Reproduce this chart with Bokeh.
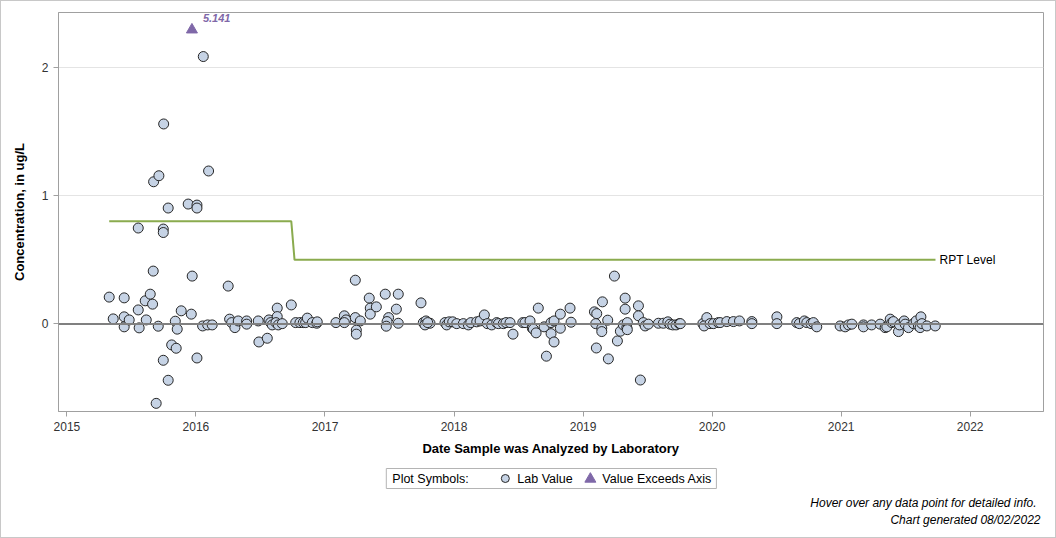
from bokeh.plotting import figure
from bokeh.layouts import column
from bokeh.models import (Range1d, FixedTicker, Span, Label, ColumnDataSource,
                          HoverTool)
from bokeh.core.properties import value
from bokeh.embed import file_html
from bokeh.resources import INLINE

# Laboratory results: analysis date (decimal year) and concentration (ug/L)
analysis_year = [
    2015.328, 2015.359, 2015.444, 2015.444, 2015.444, 2015.483, 2015.553, 2015.553,
    2015.560, 2015.607, 2015.615, 2015.646, 2015.664, 2015.669, 2015.672, 2015.692,
    2015.708, 2015.713, 2015.747, 2015.747, 2015.747, 2015.750, 2015.785, 2015.785,
    2015.812, 2015.840, 2015.847, 2015.855, 2015.886, 2015.940, 2015.964, 2015.971,
    2016.008, 2016.008, 2016.008, 2016.052, 2016.057, 2016.091, 2016.098, 2016.126,
    2016.250, 2016.261, 2016.277, 2016.302, 2016.328, 2016.393, 2016.393, 2016.483,
    2016.488, 2016.553, 2016.566, 2016.579, 2016.591, 2016.630, 2016.630, 2016.620,
    2016.638, 2016.669, 2016.739, 2016.773, 2016.806, 2016.832, 2016.850, 2016.863,
    2016.902, 2016.936, 2016.940, 2017.085, 2017.150, 2017.163, 2017.150, 2017.235,
    2017.235, 2017.274, 2017.243, 2017.243, 2017.343, 2017.351, 2017.351, 2017.398,
    2017.467, 2017.568, 2017.493, 2017.481, 2017.475, 2017.553, 2017.568, 2017.744,
    2017.762, 2017.783, 2017.775, 2017.814, 2017.796, 2017.930, 2017.943, 2017.963,
    2017.990, 2018.021, 2018.072, 2018.111, 2018.130, 2018.176, 2018.202, 2018.235,
    2018.258, 2018.292, 2018.331, 2018.344, 2018.382, 2018.403, 2018.434, 2018.457,
    2018.533, 2018.550, 2018.589, 2018.607, 2018.615, 2018.636, 2018.653, 2018.698,
    2018.716, 2018.752, 2018.775, 2018.752, 2018.775, 2018.824, 2018.824, 2018.899,
    2018.907, 2019.088, 2019.106, 2019.098, 2019.103, 2019.145, 2019.145, 2019.150,
    2019.191, 2019.196, 2019.243, 2019.266, 2019.289, 2019.326, 2019.326, 2019.312,
    2019.339, 2019.343, 2019.343, 2019.429, 2019.429, 2019.444, 2019.467, 2019.481,
    2019.506, 2019.584, 2019.622, 2019.657, 2019.674, 2019.695, 2019.721, 2019.746,
    2019.754, 2019.928, 2019.959, 2019.938, 2019.984, 2020.010, 2020.048, 2020.062,
    2020.114, 2020.165, 2020.212, 2020.308, 2020.308, 2020.502, 2020.502, 2020.656,
    2020.676, 2020.715, 2020.734, 2020.767, 2020.785, 2020.811, 2020.992, 2021.031,
    2021.057, 2021.083, 2021.173, 2021.173, 2021.236, 2021.302, 2021.341, 2021.354,
    2021.380, 2021.393, 2021.405, 2021.444, 2021.452, 2021.488, 2021.496, 2021.522,
    2021.561, 2021.581, 2021.599, 2021.612, 2021.618, 2021.626, 2021.664, 2021.729,
]
concentration = [
    0.209, 0.039, 0.203, 0.055, -0.023, 0.031, 0.748, 0.109,
    -0.031, 0.180, 0.031, 0.232, 0.154, 0.412, 1.109, -0.620,
    -0.018, 1.156, 0.740, 0.713, -0.284, 1.560, 0.904, -0.440,
    -0.164, 0.021, -0.190, -0.041, 0.102, 0.935, 0.076, 0.373,
    0.927, 0.904, -0.266, -0.016, 2.086, -0.008, 1.193, -0.008,
    0.295, 0.037, 0.010, -0.029, 0.023, 0.023, -0.002, 0.023,
    -0.141, -0.112, 0.031, 0.010, -0.008, 0.123, 0.057, 0.010,
    -0.008, 0.002, 0.148, 0.010, 0.010, 0.010, 0.010, 0.045,
    0.010, 0.005, 0.016, 0.010, 0.063, 0.031, 0.010, 0.341,
    0.049, 0.023, -0.049, -0.080, 0.201, 0.123, 0.076, 0.133,
    0.232, 0.232, 0.049, 0.018, -0.018, 0.115, 0.005, 0.164,
    0.010, 0.023, -0.008, 0.005, 0.010, 0.010, -0.008, 0.016,
    0.016, 0.002, 0.002, -0.008, 0.010, 0.016, 0.023, 0.070,
    0.002, -0.008, 0.010, 0.002, 0.002, 0.010, 0.010, -0.080,
    0.010, 0.010, 0.023, -0.034, -0.041, -0.070, 0.123, -0.023,
    -0.252, -0.076, -0.141, 0.010, 0.023, 0.076, -0.034, 0.123,
    0.013, 0.094, 0.080, 0.002, -0.188, -0.034, -0.060, 0.172,
    0.029, -0.273, 0.373, -0.133, -0.057, 0.201, 0.115, -0.008,
    -0.029, 0.010, -0.045, 0.141, 0.063, -0.438, 0.010, -0.016,
    -0.002, 0.005, 0.005, 0.016, -0.002, -0.008, -0.008, 0.002,
    0.002, 0.002, 0.049, -0.016, 0.002, 0.002, 0.010, 0.010,
    0.018, 0.018, 0.023, 0.018, 0.002, 0.055, 0.002, 0.010,
    0.002, 0.023, 0.010, 0.002, 0.010, -0.023, -0.016, -0.023,
    -0.008, -0.002, -0.008, -0.023, -0.008, -0.002, -0.029, -0.023,
    0.037, 0.010, 0.018, -0.060, -0.008, 0.023, -0.002, -0.029,
    0.002, 0.023, -0.016, -0.029, 0.055, 0.002, -0.016, -0.016,
]

# Result above the displayed axis range
exceed_year = [2015.969]
exceed_value = [5.141]
axis_cap = 2.295  # where off-scale results are pinned

# Reporting level step line
rpt_year = [2015.328, 2016.739, 2016.764, 2021.731]
rpt_level = [0.8, 0.8, 0.5, 0.5]

year_ticks = [2015, 2016, 2017, 2018, 2019, 2020, 2021, 2022]
value_ticks = [0, 1, 2]

FONT = "Liberation Sans"
GRAY = "#a0a0a0"
POINT_FILL = "#c6d3e5"
POINT_LINE = "#262626"
PURPLE = "#7f68a8"
GREEN = "#8aab4e"

p = figure(width=1054, height=460, output_backend="svg", toolbar_location=None,
           x_range=Range1d(2014.935, 2022.568), y_range=Range1d(-0.6836, 2.4297),
           min_border_left=57, min_border_right=12, min_border_top=11,
           min_border_bottom=50, background_fill_color="white",
           border_fill_color="white")
p.outline_line_color = GRAY
p.outline_line_width = 1

# axes
for ax in (p.xaxis[0], p.yaxis[0]):
    ax.axis_line_color = GRAY
    ax.major_tick_line_color = GRAY
    ax.major_tick_out = 5
    ax.major_tick_in = 0
    ax.minor_tick_line_color = None
    ax.major_label_text_font = FONT
    ax.major_label_text_font_size = "12px"
    ax.major_label_text_color = "#333333"
    ax.axis_label_text_font = FONT
    ax.axis_label_text_font_size = "13px"
    ax.axis_label_text_font_style = "bold"
    ax.axis_label_text_color = "#000000"

p.xaxis.ticker = FixedTicker(ticks=year_ticks)
p.yaxis.ticker = FixedTicker(ticks=value_ticks)
p.xaxis.axis_label = "Date Sample was Analyzed by Laboratory"
p.yaxis.axis_label = "Concentration, in ug/L"
p.xaxis.major_label_standoff = 5
p.xaxis.axis_label_standoff = 7
p.yaxis.major_label_standoff = 5
p.yaxis.axis_label_standoff = 12

p.xgrid.grid_line_color = None
p.ygrid.ticker = FixedTicker(ticks=value_ticks)
p.ygrid.grid_line_color = "#e4e4e4"
p.ygrid.grid_line_width = 1

# zero reference line
p.add_layout(Span(location=0, dimension="width", line_color="#808080", line_width=2))

# reporting level
p.line(rpt_year, rpt_level, line_color=GREEN, line_width=2)
p.add_layout(Label(x=rpt_year[-1], y=rpt_level[-1], text="RPT Level", x_offset=4,
                   text_baseline="middle", text_font=FONT, text_font_size="12px",
                   text_color="#000000"))

src = ColumnDataSource(data=dict(year=analysis_year, value=concentration))
pts = p.scatter("year", "value", source=src, size=10, marker="circle",
                fill_color=POINT_FILL, line_color=POINT_LINE, line_width=1)

ex_plot = [min(v, axis_cap) for v in exceed_value]
ex_src = ColumnDataSource(data=dict(year=exceed_year, value=exceed_value, ploty=ex_plot,
                                    label=[f"{v:.3f}" for v in exceed_value]))
tri = p.scatter("year", "ploty", source=ex_src, size=11, marker="triangle",
                fill_color=PURPLE, line_color=PURPLE)
p.text("year", "ploty", text="label", source=ex_src, x_offset=11, y_offset=-12,
       text_baseline="middle", text_font_size="11px", text_font_style="bold italic",
       text_color=PURPLE, text_font=value(FONT))

p.add_tools(HoverTool(renderers=[pts, tri],
                      tooltips=[("Year", "@year{0.00}"), ("Value", "@value{0.000}")]))

# footer: symbol key and notes; its frame lines up with the chart frame,
# so the x range is given in page pixels over that frame
foot = figure(width=1054, height=76, output_backend="svg", toolbar_location=None,
              x_range=Range1d(58.3, 1043), y_range=Range1d(76, 0),
              min_border=0, outline_line_color=None, border_fill_color="white")
foot.axis.visible = False
foot.grid.visible = False
foot.quad(left=[386], right=[716], top=[7], bottom=[27], fill_color="white",
          line_color="#b4b4b4", line_width=1)
foot.scatter([505], [17], marker="circle", size=8, fill_color=POINT_FILL,
             line_color=POINT_LINE, line_width=1)
foot.scatter([590], [17.5], marker="triangle", size=11, fill_color=PURPLE,
             line_color=PURPLE)
for x, t in [(392, "Plot Symbols:"), (517, "Lab Value"), (602, "Value Exceeds Axis")]:
    foot.add_layout(Label(x=x, y=17, text=t, text_baseline="middle", text_font=FONT,
                          text_font_size="12.5px", text_color="#000000"))
for x, y, t in [(1036, 41, "Hover over any data point for detailed info."),
                (1040, 58, "Chart generated 08/02/2022")]:
    foot.add_layout(Label(x=x, y=y, text=t, text_align="right", text_baseline="middle",
                          text_font=FONT, text_font_size="12px", text_font_style="italic",
                          text_color="#000000"))

layout = column(p, foot, spacing=0, styles={"border": "1px solid #c8c8c8"})

open("out.html", "w").write(file_html(layout, INLINE))
